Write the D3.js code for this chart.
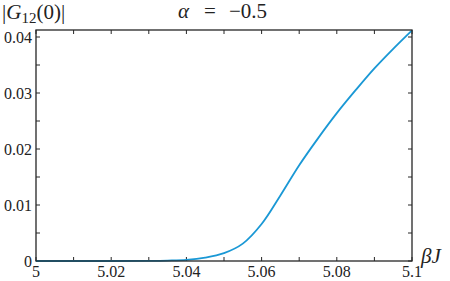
<!DOCTYPE html>
<html>
<head>
<meta charset="utf-8">
<script src="https://cdn.jsdelivr.net/npm/d3@7"></script>
<style>
  body { margin: 0; background: #fff; }
</style>
</head>
<body>
<div id="chart"></div>
<script>
// values
const betaJ = [5.00, 5.02, 5.03, 5.035, 5.04, 5.045, 5.05, 5.055, 5.06, 5.065,
               5.07, 5.075, 5.08, 5.085, 5.09, 5.095, 5.10];
const g12 = [0, 0, 0.00003, 0.00008, 0.0002, 0.0006, 0.0014, 0.0031, 0.0066, 0.0117,
             0.0171, 0.0219, 0.0264, 0.0305, 0.0344, 0.0379, 0.0412];
const xTicks = [5, 5.01, 5.02, 5.03, 5.04, 5.05, 5.06, 5.07, 5.08, 5.09, 5.1];
const xLabels = [5, 5.02, 5.04, 5.06, 5.08, 5.1];
const yTicks = [0, 0.005, 0.01, 0.015, 0.02, 0.025, 0.03, 0.035, 0.04];
const yLabels = [0, 0.01, 0.02, 0.03, 0.04];

const width = 450, height = 281;
const margin = {top: 30, right: 38, bottom: 20, left: 36};
const font = "'Liberation Serif', 'DejaVu Serif', serif";

const svg = d3.select('#chart').append('svg')
  .attr('width', width)
  .attr('height', height)
  .style('font-family', font);

const x = d3.scaleLinear().domain([5, 5.1]).range([margin.left, width - margin.right]);
const y = d3.scaleLinear().domain([0, 0.04125]).range([height - margin.bottom, margin.top]);

const tickLen = 4;
const fmt = d => d === 0 ? '0' : String(+d.toFixed(3));

// ticks (inward, on all four sides)
const tg = svg.append('g').attr('stroke', '#262626').attr('stroke-width', 1);
xTicks.forEach(t => {
  tg.append('line').attr('x1', x(t)).attr('x2', x(t))
    .attr('y1', y(0)).attr('y2', y(0) - tickLen);
  tg.append('line').attr('x1', x(t)).attr('x2', x(t))
    .attr('y1', margin.top).attr('y2', margin.top + tickLen);
});
yTicks.forEach(t => {
  tg.append('line').attr('y1', y(t)).attr('y2', y(t))
    .attr('x1', x(5)).attr('x2', x(5) + tickLen);
  tg.append('line').attr('y1', y(t)).attr('y2', y(t))
    .attr('x1', x(5.1)).attr('x2', x(5.1) - tickLen);
});

svg.selectAll('text.xl')
  .data(xLabels)
  .enter().append('text')
  .attr('class', 'xl')
  .attr('x', d => x(d))
  .attr('y', 277)
  .attr('text-anchor', 'middle')
  .attr('fill', '#222')
  .style('font-size', '16px')
  .text(fmt);

svg.selectAll('text.yl')
  .data(yLabels)
  .enter().append('text')
  .attr('class', 'yl')
  .attr('x', 32)
  .attr('y', d => y(d) + 5.5)
  .attr('text-anchor', 'end')
  .attr('fill', '#222')
  .style('font-size', '16px')
  .text(fmt);

// curve
const line = d3.line()
  .x((d, i) => x(betaJ[i]))
  .y(d => y(d))
  .curve(d3.curveCatmullRom.alpha(0.5));

svg.append('path')
  .datum(g12)
  .attr('fill', 'none')
  .attr('stroke', '#1a98d5')
  .attr('stroke-width', 1.8)
  .attr('d', line);

// box
svg.append('rect')
  .attr('x', x(5)).attr('y', margin.top)
  .attr('width', x(5.1) - x(5)).attr('height', y(0) - margin.top)
  .attr('fill', 'none').attr('stroke', '#262626').attr('stroke-width', 1.3);

// labels
const ylab = svg.append('text')
  .attr('x', 2).attr('y', 18.5)
  .attr('fill', '#222')
  .style('font-size', '21px');
ylab.append('tspan').text('|');
ylab.append('tspan').style('font-style', 'italic').text('G');
ylab.append('tspan').attr('dy', 4).style('font-size', '15px').text('12');
ylab.append('tspan').attr('dy', -4).text('(0)|');

const title = svg.append('text')
  .attr('y', 18.3)
  .attr('fill', '#222')
  .style('font-size', '21px');
title.append('tspan').attr('x', 178).style('font-style', 'italic').text('α');
title.append('tspan').attr('x', 204).text('=');
title.append('tspan').attr('x', 229).text('−0.5');

svg.append('text')
  .attr('x', 421).attr('y', 263)
  .attr('fill', '#222')
  .style('font-size', '21px')
  .style('font-style', 'italic')
  .text('βJ');
</script>
</body>
</html>
